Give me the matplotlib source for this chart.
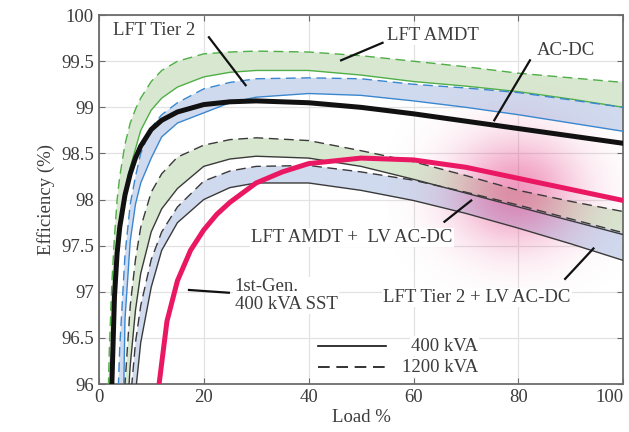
import numpy as np
import matplotlib
matplotlib.use("Agg")
import matplotlib.pyplot as plt

plt.rcParams["font.family"] = ["Liberation Serif", "DejaVu Serif"]

# load (%) grid shared by the transformer curves
load = [1.5, 2, 2.5, 3, 3.5, 4, 5, 6, 7, 8, 10, 12, 15, 20, 25, 30, 40, 50, 60, 70, 80, 90, 100]

# efficiency (%)
amdt_1200 = [95.2, 96.35, 97.1, 97.6, 98.0, 98.25, 98.6, 98.83, 98.98, 99.1, 99.28, 99.4, 99.5,
             99.58, 99.6, 99.61, 99.6, 99.56, 99.5, 99.44, 99.37, 99.32, 99.27]
amdt_400 = [92.0, 95.0, 96.0, 96.9, 97.4, 97.72, 98.1, 98.35, 98.55, 98.75, 98.97, 99.1, 99.22,
            99.33, 99.38, 99.4, 99.4, 99.35, 99.28, 99.23, 99.17, 99.09, 99.0]
tier2_1200 = [85.0, 89.0, 92.5, 94.5, 95.6, 96.4, 97.4, 97.95, 98.25, 98.5, 98.78, 98.92, 99.05,
              99.2, 99.27, 99.31, 99.32, 99.31, 99.25, 99.21, 99.16, 99.08, 99.0]
tier2_400 = [80.0, 83.0, 86.0, 89.0, 91.5, 93.5, 96.7, 97.55, 97.95, 98.18, 98.45, 98.68, 98.83,
             98.94, 99.05, 99.11, 99.15, 99.13, 99.07, 99.0, 98.92, 98.83, 98.74]
acdc = [91.0, 94.5, 96.0, 96.95, 97.42, 97.7, 98.05, 98.28, 98.45, 98.58, 98.76, 98.86, 98.95,
        99.03, 99.06, 99.07, 99.05, 99.0, 98.93, 98.85, 98.77, 98.69, 98.61]
amdt_lv_1200 = [80.0, 84.0, 87.0, 89.5, 91.5, 93.5, 96.0, 96.85, 97.35, 97.7, 98.08, 98.28, 98.46,
                98.59, 98.65, 98.67, 98.64, 98.53, 98.41, 98.26, 98.1, 97.98, 97.87]
amdt_lv_400 = [78.0, 82.0, 85.5, 88.0, 90.5, 92.5, 95.3, 96.2, 96.8, 97.2, 97.65, 97.9, 98.12,
               98.36, 98.44, 98.47, 98.45, 98.36, 98.22, 98.07, 97.92, 97.77, 97.62]
tier2_lv_1200 = [75.0, 78.0, 81.0, 84.0, 87.0, 89.5, 93.5, 95.8, 96.45, 96.85, 97.35, 97.65, 97.92,
                 98.2, 98.31, 98.36, 98.37, 98.3, 98.21, 98.08, 97.94, 97.79, 97.64]
tier2_lv_400 = [72.0, 75.0, 78.0, 81.0, 84.0, 86.5, 90.5, 93.5, 95.9, 96.45, 97.05, 97.45, 97.75,
                98.0, 98.13, 98.18, 98.18, 98.1, 97.99, 97.85, 97.69, 97.52, 97.34]

# 1st-gen SST
sst_load = [10, 11.5, 13, 15, 17.5, 20, 22.5, 25, 30, 35, 40, 50, 60, 70, 80, 90, 100]
sst_eff = [95.2, 96.0, 96.68, 97.12, 97.45, 97.67, 97.84, 97.97, 98.18, 98.3, 98.39, 98.45,
           98.43, 98.35, 98.23, 98.11, 97.99]

legend_labels = ["400 kVA", "1200 kVA"]

green_line = "#4fae47"
blue_line = "#3a87cf"
green_fill = "#d8e8d0"
blue_fill = "#d0daee"
dark = "#3a3a3a"
pink = "#ea1763"
txt_col = "#3c3c3c"
fs = 13.5
dash = (7, 4)

fig = plt.figure(figsize=(6.29, 4.32), dpi=100)
ax = fig.add_axes([0.157, 0.111, 0.834, 0.854])

# bands
ax.fill_between(load, amdt_1200, amdt_400, color=green_fill, lw=0, zorder=1)
ax.fill_between(load, tier2_1200, tier2_400, color=blue_fill, lw=0, zorder=1)
ax.fill_between(load, amdt_lv_1200, amdt_lv_400, color=green_fill, lw=0, zorder=1)
ax.fill_between(load, tier2_lv_1200, tier2_lv_400, color=blue_fill, lw=0, zorder=1)

# pink highlight spot
gx, gy = np.meshgrid(np.linspace(55, 105, 300), np.linspace(96.8, 99.3, 300))
glow = np.zeros(gx.shape + (4,))
glow[..., :3] = matplotlib.colors.to_rgb("#e2347f")
glow[..., 3] = 0.5 * np.exp(-0.5 * ((gx - 79.5) / 8.5) ** 2 - 0.5 * ((gy - 98.08) / 0.42) ** 2)
ax.imshow(glow, extent=[55, 105, 96.8, 99.3], origin="lower", aspect="auto", zorder=2,
          interpolation="bilinear")

# lines
ax.plot(load, amdt_1200, color=green_line, lw=1.0, dashes=dash, zorder=3)
ax.plot(load, amdt_400, color=green_line, lw=1.0, zorder=3)
ax.plot(load, tier2_1200, color=blue_line, lw=1.0, dashes=dash, zorder=3)
ax.plot(load, tier2_400, color=blue_line, lw=1.0, zorder=3)
ax.plot(load, amdt_lv_1200, color=dark, lw=1.0, dashes=dash, zorder=3)
ax.plot(load, amdt_lv_400, color=dark, lw=1.0, zorder=3)
ax.plot(load, tier2_lv_1200, color=dark, lw=1.0, dashes=dash, zorder=3)
ax.plot(load, tier2_lv_400, color=dark, lw=1.0, zorder=3)
ax.plot(load, acdc, color="#111111", lw=3.6, zorder=4)
ax.plot(sst_load, sst_eff, color=pink, lw=3.6, zorder=5)

# labels with leader lines
box = dict(facecolor="white", edgecolor="none", pad=1.0)
labels = [
    ("LFT Tier 2", 2.7, 99.83, "left", (21.0, 99.76), (28.0, 99.24)),
    ("LFT AMDT", 55.0, 99.78, "left", (54.1, 99.70), (46.2, 99.51)),
    ("AC-DC", 83.5, 99.62, "left", (82.2, 99.51), (75.4, 98.86)),
    ("LFT AMDT +  LV AC-DC", 48.2, 97.59, "center", (71.0, 97.99), (65.9, 97.76)),
    ("1st-Gen.\n400 kVA SST", 25.9, 96.96, "left", (17.2, 97.02), (24.8, 96.99)),
    ("LFT Tier 2 + LV AC-DC", 72.1, 96.94, "center", (88.9, 97.14), (94.3, 97.47)),
]
for txt, tx, ty, ha, p0, p1 in labels:
    ax.text(tx, ty, txt, ha=ha, va="center", fontsize=fs, color=txt_col,
            bbox=box, zorder=6, linespacing=1.1)
    ax.plot([p0[0], p1[0]], [p0[1], p1[1]], color="#111111", lw=1.6, zorder=7)

# legend drawn by hand: short line samples with right-aligned labels
tr = ax.transAxes
ax.plot([0.418, 0.548], [0.103, 0.103], color="#111111", lw=1.2, transform=tr, zorder=8)
ax.plot([0.418, 0.548], [0.046, 0.046], color="#111111", lw=1.2, dashes=dash,
        transform=tr, zorder=8)
for lab, yy in zip(legend_labels, [0.103, 0.046]):
    ax.text(0.723, yy, lab, transform=tr, ha="right", va="center", fontsize=fs,
            color=txt_col, bbox=box, zorder=8)

ax.set_xlim(0, 100)
ax.set_ylim(96, 100)
ax.set_xticks([0, 20, 40, 60, 80, 100])
ax.set_yticks(np.arange(96, 100.01, 0.5))
ax.set_yticklabels(["96", "96.5", "97", "97.5", "98", "98.5", "99", "99.5", "100"])
ax.grid(True, color="#e2e2e2", lw=0.9, zorder=0)
ax.set_axisbelow(True)
ax.tick_params(direction="in", top=True, right=True, labelsize=fs,
               colors="#6b6b6b", labelcolor=txt_col, length=4)
ax.get_xticklabels()[-1].set_horizontalalignment("right")
for s in ax.spines.values():
    s.set_color("#6b6b6b")
    s.set_linewidth(1.3)
ax.set_xlabel("Load %", fontsize=fs, color=txt_col, labelpad=2)
ax.set_ylabel("Efficiency (%)", fontsize=fs, color=txt_col, labelpad=4)

fig.savefig("out.png", dpi=100)
